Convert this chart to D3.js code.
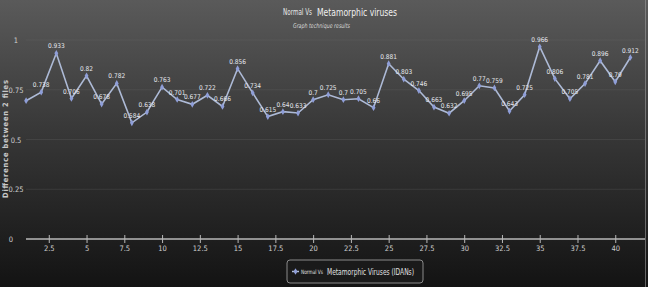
<!DOCTYPE html>
<html lang="en">
<head>
<meta charset="utf-8">
<title>Normal Vs Metamorphic viruses</title>
<script src="https://cdnjs.cloudflare.com/ajax/libs/d3/7.8.5/d3.min.js"></script>
<style>
  body { margin: 0; background: #1a1a1a; }
  svg { display: block; }
  text { font-family: "Liberation Sans Narrow", "DejaVu Sans Condensed", sans-serif; }
</style>
</head>
<body>
<script>
var w = 648, h = 287;

// values, one per file pair (x = 1..41)
var xs = d3.range(1, 42);
var values = [0.695, 0.738, 0.933, 0.706, 0.82, 0.678, 0.782, 0.584, 0.638, 0.763,
              0.701, 0.677, 0.722, 0.666, 0.856, 0.734, 0.615, 0.64, 0.633, 0.7,
              0.725, 0.7, 0.705, 0.66, 0.881, 0.803, 0.746, 0.663, 0.632, 0.695,
              0.77, 0.759, 0.643, 0.725, 0.966, 0.806, 0.705, 0.781, 0.896, 0.79,
              0.912];
var labels = values.map(function (v, i) { return i === 0 ? "" : String(v); });
var xTicks = [2.5, 5, 7.5, 10, 12.5, 15, 17.5, 20, 22.5, 25, 27.5, 30, 32.5, 35, 37.5, 40];
var yTicks = [0, 0.25, 0.5, 0.75, 1];

var svg = d3.select("body").append("svg")
    .attr("width", w)
    .attr("height", h);

var defs = svg.append("defs");
var grad = defs.append("linearGradient")
    .attr("id", "bg").attr("x1", 0).attr("y1", 0).attr("x2", 0).attr("y2", 1);
grad.append("stop").attr("offset", "0%").attr("stop-color", "#5a5a5a");
grad.append("stop").attr("offset", "45%").attr("stop-color", "#383838");
grad.append("stop").attr("offset", "100%").attr("stop-color", "#131313");

svg.append("rect").attr("width", w).attr("height", h).attr("fill", "url(#bg)");
svg.append("line")
    .attr("x1", w - 2.5).attr("x2", w - 2.5).attr("y1", 0).attr("y2", h)
    .attr("stroke", "#9a9a9a").attr("stroke-width", 1).attr("opacity", 0.6);

var x = d3.scaleLinear().domain([0, 42.3]).range([11, 650]);
var y = d3.scaleLinear().domain([0, 1]).range([239, 40]);

// gridlines
svg.append("g")
  .selectAll("line")
  .data(yTicks.slice(1))
  .enter()
  .append("line")
  .attr("x1", 26).attr("x2", 645)
  .attr("y1", function (d) { return y(d); })
  .attr("y2", function (d) { return y(d); })
  .attr("stroke", "#6a6a6a")
  .attr("stroke-width", 0.6)
  .attr("opacity", 0.45);

// y tick labels
svg.append("g")
  .selectAll("text")
  .data(yTicks)
  .enter()
  .append("text")
  .attr("x", function (d) { return d === 0 ? 11 : 16; })
  .attr("y", function (d) { return y(d) + 3; })
  .attr("text-anchor", "middle")
  .attr("font-size", "7.5px")
  .attr("fill", "#cfcfcf")
  .text(function (d) { return d; });

// x axis
var xAxis = d3.axisBottom(x)
    .tickValues(xTicks)
    .tickSize(4)
    .tickFormat(function (d) { return d; });

var gx = svg.append("g")
    .attr("transform", "translate(0," + 239 + ")")
    .call(xAxis);
gx.select(".domain").remove();
gx.insert("line", ":first-child")
    .attr("x1", 26).attr("x2", 645).attr("y1", 0).attr("y2", 0)
    .attr("stroke", "#b8b8b8").attr("stroke-width", 1.5);
gx.selectAll(".tick line")
    .attr("y1", -4).attr("y2", 4)
    .attr("stroke", "#b8b8b8");
gx.selectAll(".tick text")
    .attr("y", 7)
    .attr("font-size", "7.5px")
    .attr("font-family", "'Liberation Sans Narrow', 'DejaVu Sans Condensed', sans-serif")
    .attr("fill", "#cfcfcf");

// y axis title
svg.append("text")
    .attr("transform", "translate(8,139) rotate(-90)")
    .attr("text-anchor", "middle")
    .attr("font-family", "DejaVu Sans, sans-serif")
    .attr("font-weight", "bold")
    .attr("font-size", "7.5px")
    .attr("textLength", 118)
    .attr("lengthAdjust", "spacing")
    .attr("fill", "#c8c8c8")
    .text("Difference between 2 files");

// series line
var line = d3.line()
    .x(function (d, i) { return x(xs[i]); })
    .y(function (d) { return y(d); });

svg.append("path")
    .datum(values)
    .attr("fill", "none")
    .attr("stroke", "#adbad6")
    .attr("stroke-width", 1.6)
    .attr("d", line);

svg.append("g")
  .selectAll("path")
  .data(values)
  .enter()
  .append("path")
  .attr("d", d3.symbol().type(d3.symbolDiamond).size(13))
  .attr("transform", function (d, i) { return "translate(" + x(xs[i]) + "," + y(d) + ")"; })
  .attr("fill", "#8f9ed8");

// value labels
svg.append("g")
  .selectAll("text")
  .data(values)
  .enter()
  .append("text")
  .attr("x", function (d, i) { return x(xs[i]); })
  .attr("y", function (d) { return y(d) - 5; })
  .attr("text-anchor", "middle")
  .attr("font-size", "6.5px")
  .attr("fill", "#e6e8ee")
  .text(function (d, i) { return labels[i]; });

// title
svg.append("text")
    .attr("x", 283).attr("y", 15)
    .attr("font-size", "8px")
    .attr("textLength", 29).attr("lengthAdjust", "spacingAndGlyphs")
    .attr("fill", "#e8e8e8")
    .text("Normal Vs");
svg.append("text")
    .attr("x", 317).attr("y", 15.5)
    .attr("font-size", "11px")
    .attr("textLength", 80).attr("lengthAdjust", "spacingAndGlyphs")
    .attr("fill", "#f0f0f0")
    .text("Metamorphic viruses");

svg.append("text")
    .attr("x", 293).attr("y", 27.5)
    .attr("font-size", "6.5px")
    .attr("font-style", "italic")
    .attr("textLength", 57).attr("lengthAdjust", "spacingAndGlyphs")
    .attr("fill", "#d8d8d8")
    .text("Graph technique results");

// legend
var lg = svg.append("g").attr("transform", "translate(287,260)");
lg.append("rect")
    .attr("width", 136).attr("height", 23)
    .attr("rx", 3)
    .attr("fill", "#1a1a1a")
    .attr("stroke", "#8a8a8a")
    .attr("stroke-width", 1);
lg.append("line")
    .attr("x1", 5).attr("x2", 12).attr("y1", 11.5).attr("y2", 11.5)
    .attr("stroke", "#b3bfd6").attr("stroke-width", 1.5);
lg.append("path")
    .attr("d", d3.symbol().type(d3.symbolDiamond).size(13))
    .attr("transform", "translate(8.5,11.5)")
    .attr("fill", "#8f9ed8");
lg.append("text")
    .attr("x", 14).attr("y", 14)
    .attr("font-size", "6px")
    .attr("textLength", 22).attr("lengthAdjust", "spacingAndGlyphs")
    .attr("fill", "#e0e0e0")
    .text("Normal Vs");
lg.append("text")
    .attr("x", 40).attr("y", 14.5)
    .attr("font-size", "9.5px")
    .attr("textLength", 87).attr("lengthAdjust", "spacingAndGlyphs")
    .attr("fill", "#e0e0e0")
    .text("Metamorphic Viruses (IDANs)");
</script>
</body>
</html>
